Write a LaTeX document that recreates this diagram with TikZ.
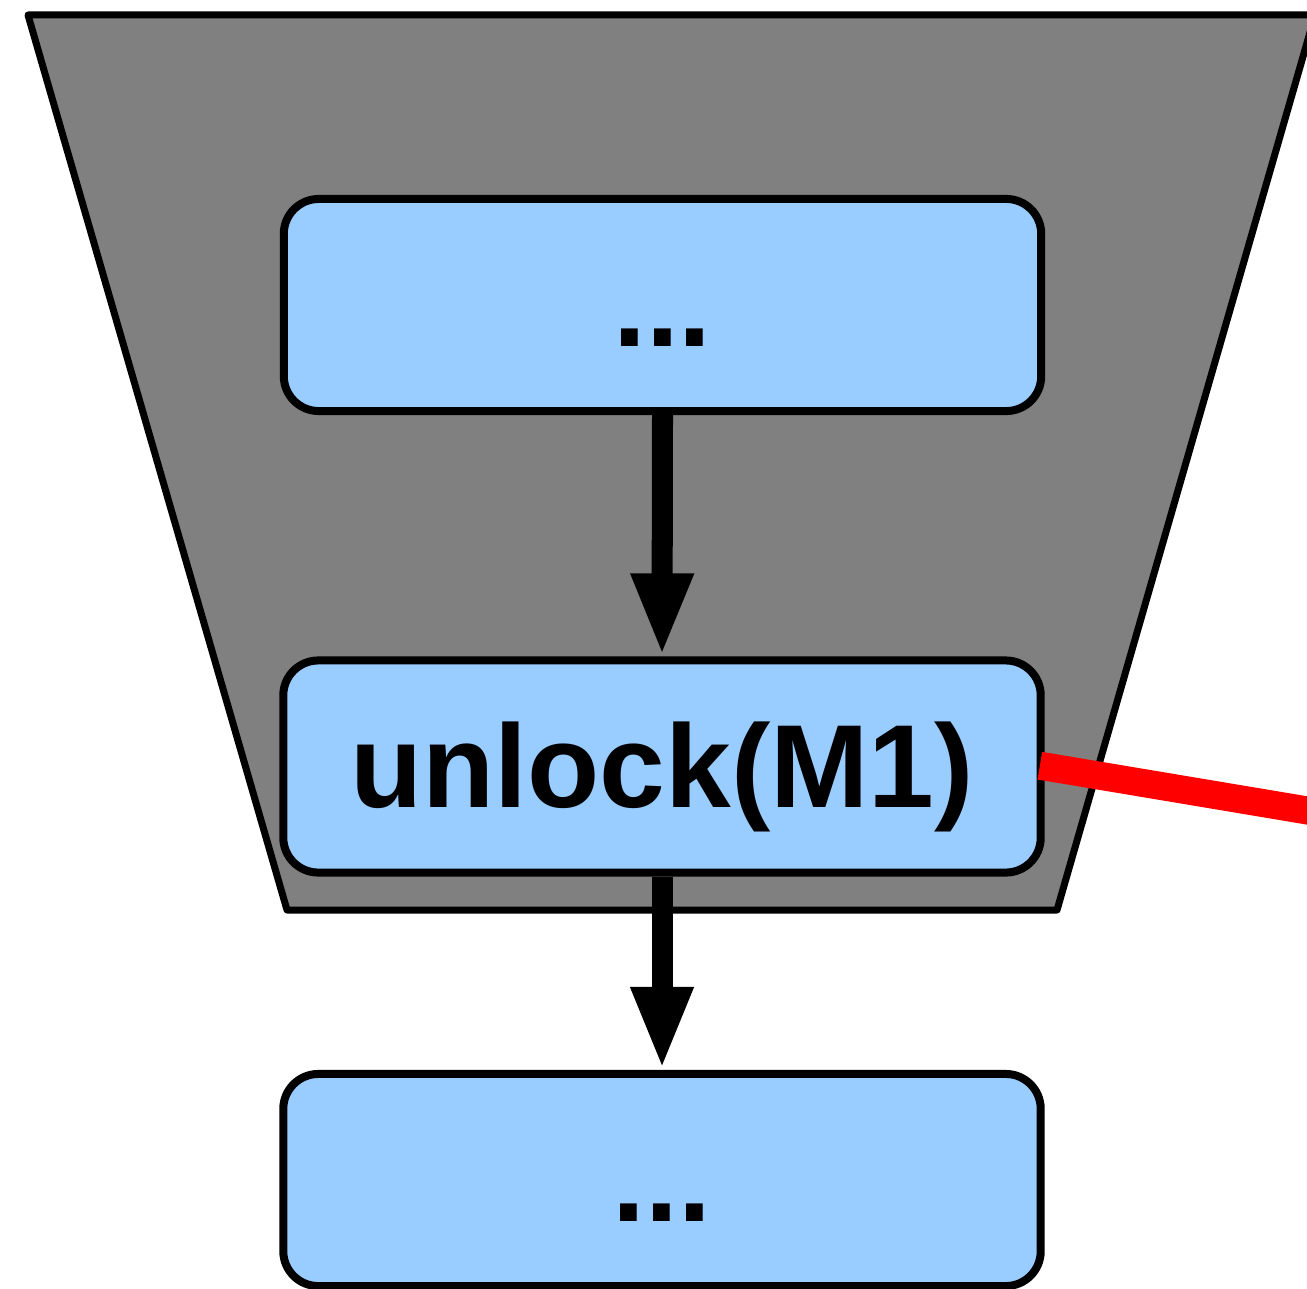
\documentclass[tikz,border=0pt]{standalone}
\usepackage{fontspec}
\setmainfont{Liberation Sans}
\usetikzlibrary{arrows.meta}
\definecolor{boxblue}{RGB}{153,204,255}
\definecolor{trapgray}{RGB}{128,128,128}
\begin{document}
\begin{tikzpicture}[x=0.01cm,y=-0.01cm,
  stepbox/.style={draw=black, line width=0.08cm, fill=boxblue, rounded corners=0.35cm,
    minimum width=7.57cm, minimum height=2.12cm, inner sep=0pt,
    text height=1.07cm, text depth=0.25cm,
    font=\fontsize{33.6pt}{40pt}\selectfont\bfseries},
  flow/.style={line width=0.21cm, -{Triangle[length=0.83cm,width=0.57cm]}},
  trap/.style={fill=trapgray, draw=black, line width=0.07cm, line join=round},
  unlockline/.style={draw=red, line width=0.28cm, shorten <=-0.05cm}]
\useasboundingbox (0,0) rectangle (1307,1288);
\clip (0,0) rectangle (1307,1288);
\draw[trap] (28,15) -- (1315,15) -- (1057,910) -- (287,910) -- cycle;
\node[stepbox] (top) at (662.5,305) {...};
\node[stepbox] (mid) at (662,766.5) {unlock(M1)};
\node[stepbox] (bot) at (662,1180) {...};
\draw[flow] (top.south) -- (mid.north);
\draw[flow] (mid.south) -- (bot.north);
\coordinate (redend) at (1400,826);
\draw[unlockline] (mid.east) -- (redend);
\end{tikzpicture}
\end{document}
